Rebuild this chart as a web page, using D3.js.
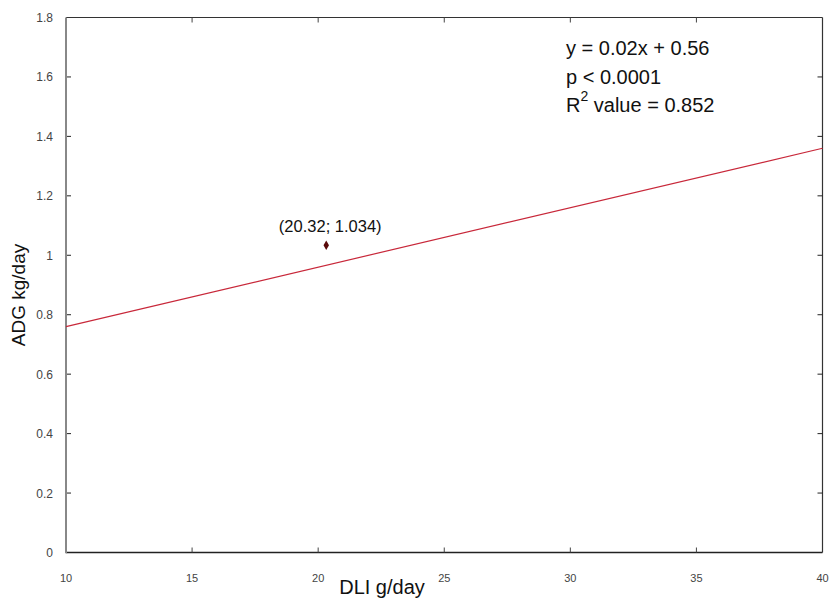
<!DOCTYPE html>
<html>
<head>
<meta charset="utf-8">
<script src="https://cdn.jsdelivr.net/npm/d3@7"></script>
<style>
  body { margin: 0; background: #fff; }
  text { font-family: Arial, "Liberation Sans", sans-serif; }
</style>
</head>
<body>
<svg id="chart" width="829" height="601"></svg>
<script>
const xTicks = [10, 15, 20, 25, 30, 35, 40];
const yTicks = [0, 0.2, 0.4, 0.6, 0.8, 1, 1.2, 1.4, 1.6, 1.8];
const points = [{ x: 20.32, y: 1.034 }];
const slope = 0.02, intercept = 0.56;
const statLines = ['y = 0.02x + 0.56', 'p < 0.0001', 'value = 0.852'];

const width = 829, height = 601;
const m = { left: 66, right: 6.5, top: 17.5, bottom: 48.5 };
const svg = d3.select('#chart');

const x = d3.scaleLinear().domain([10, 40]).range([m.left, width - m.right]);
const y = d3.scaleLinear().domain([0, 1.8]).range([height - m.bottom, m.top]);

// frame
svg.append('line').attr('x1', x(10)).attr('x2', x(40)).attr('y1', y(1.8)).attr('y2', y(1.8))
  .attr('stroke', '#333').attr('stroke-width', 1.2);
svg.append('line').attr('x1', x(40)).attr('x2', x(40)).attr('y1', y(1.8)).attr('y2', y(0))
  .attr('stroke', '#333').attr('stroke-width', 1.2);
svg.append('line').attr('x1', x(10)).attr('x2', x(40)).attr('y1', y(0)).attr('y2', y(0))
  .attr('stroke', '#222').attr('stroke-width', 1.5);

// ticks inward
const tk = 5;
xTicks.slice(1, -1).forEach(t => {
  svg.append('line').attr('x1', x(t)).attr('x2', x(t)).attr('y1', y(0)).attr('y2', y(0) - tk).attr('stroke', '#444');
  svg.append('line').attr('x1', x(t)).attr('x2', x(t)).attr('y1', y(1.8)).attr('y2', y(1.8) + tk).attr('stroke', '#444');
});
yTicks.slice(1, -1).forEach(t => {
  svg.append('line').attr('x1', x(10)).attr('x2', x(10) + tk).attr('y1', y(t)).attr('y2', y(t)).attr('stroke', '#222');
  svg.append('line').attr('x1', x(40)).attr('x2', x(40) - tk).attr('y1', y(t)).attr('y2', y(t)).attr('stroke', '#222');
});

// left axis line (gray)
svg.append('line').attr('x1', x(10)).attr('x2', x(10)).attr('y1', y(1.8)).attr('y2', y(0) + 0.75)
  .attr('stroke', '#888').attr('stroke-width', 2);

// tick labels
svg.selectAll('.ylab').data(yTicks).enter().append('text')
  .attr('x', m.left - 13).attr('y', d => y(d) + 4.5)
  .attr('text-anchor', 'end').attr('font-size', 12).attr('fill', '#444')
  .text(d => d3.format('~g')(d));
svg.selectAll('.xlab').data(xTicks).enter().append('text')
  .attr('x', d => x(d)).attr('y', 582)
  .attr('text-anchor', 'middle').attr('font-size', 11).attr('fill', '#444')
  .text(d => d);

// regression line
svg.append('line')
  .attr('x1', x(10)).attr('y1', y(slope * 10 + intercept))
  .attr('x2', x(40)).attr('y2', y(slope * 40 + intercept))
  .attr('stroke', '#c8283a').attr('stroke-width', 1.2);

// point
svg.selectAll('.pt').data(points).enter().append('path')
  .attr('d', d3.symbol(d3.symbolDiamond, 26))
  .attr('transform', d => `translate(${x(d.x)},${y(d.y)})`)
  .attr('fill', '#5a0a0a');
svg.selectAll('.ptlab').data(points).enter().append('text')
  .attr('x', d => x(d.x) + 4).attr('y', d => y(d.y) - 13)
  .attr('text-anchor', 'middle').attr('font-size', 16.5).attr('fill', '#111')
  .text(d => `(${d.x}; ${d.y})`);

// stats
const sx = 566;
svg.append('text').attr('x', sx).attr('y', 54.5).attr('font-size', 20).attr('fill', '#111').text(statLines[0]);
svg.append('text').attr('x', sx).attr('y', 83.5).attr('font-size', 20).attr('fill', '#111').text(statLines[1]);
const r2 = svg.append('text').attr('x', sx).attr('y', 112).attr('font-size', 20).attr('fill', '#111');
r2.append('tspan').text('R');
r2.append('tspan').attr('font-size', 14).attr('dy', -11).text('2');
r2.append('tspan').attr('dy', 11).text(' ' + statLines[2]);

// axis titles
svg.append('text').attr('x', 382).attr('y', 594).attr('text-anchor', 'middle')
  .attr('font-size', 20).attr('fill', '#111').text('DLI g/day');
svg.append('text').attr('transform', 'translate(25,295) rotate(-90)').attr('text-anchor', 'middle')
  .attr('font-size', 19).attr('fill', '#111').text('ADG kg/day');
</script>
</body>
</html>
